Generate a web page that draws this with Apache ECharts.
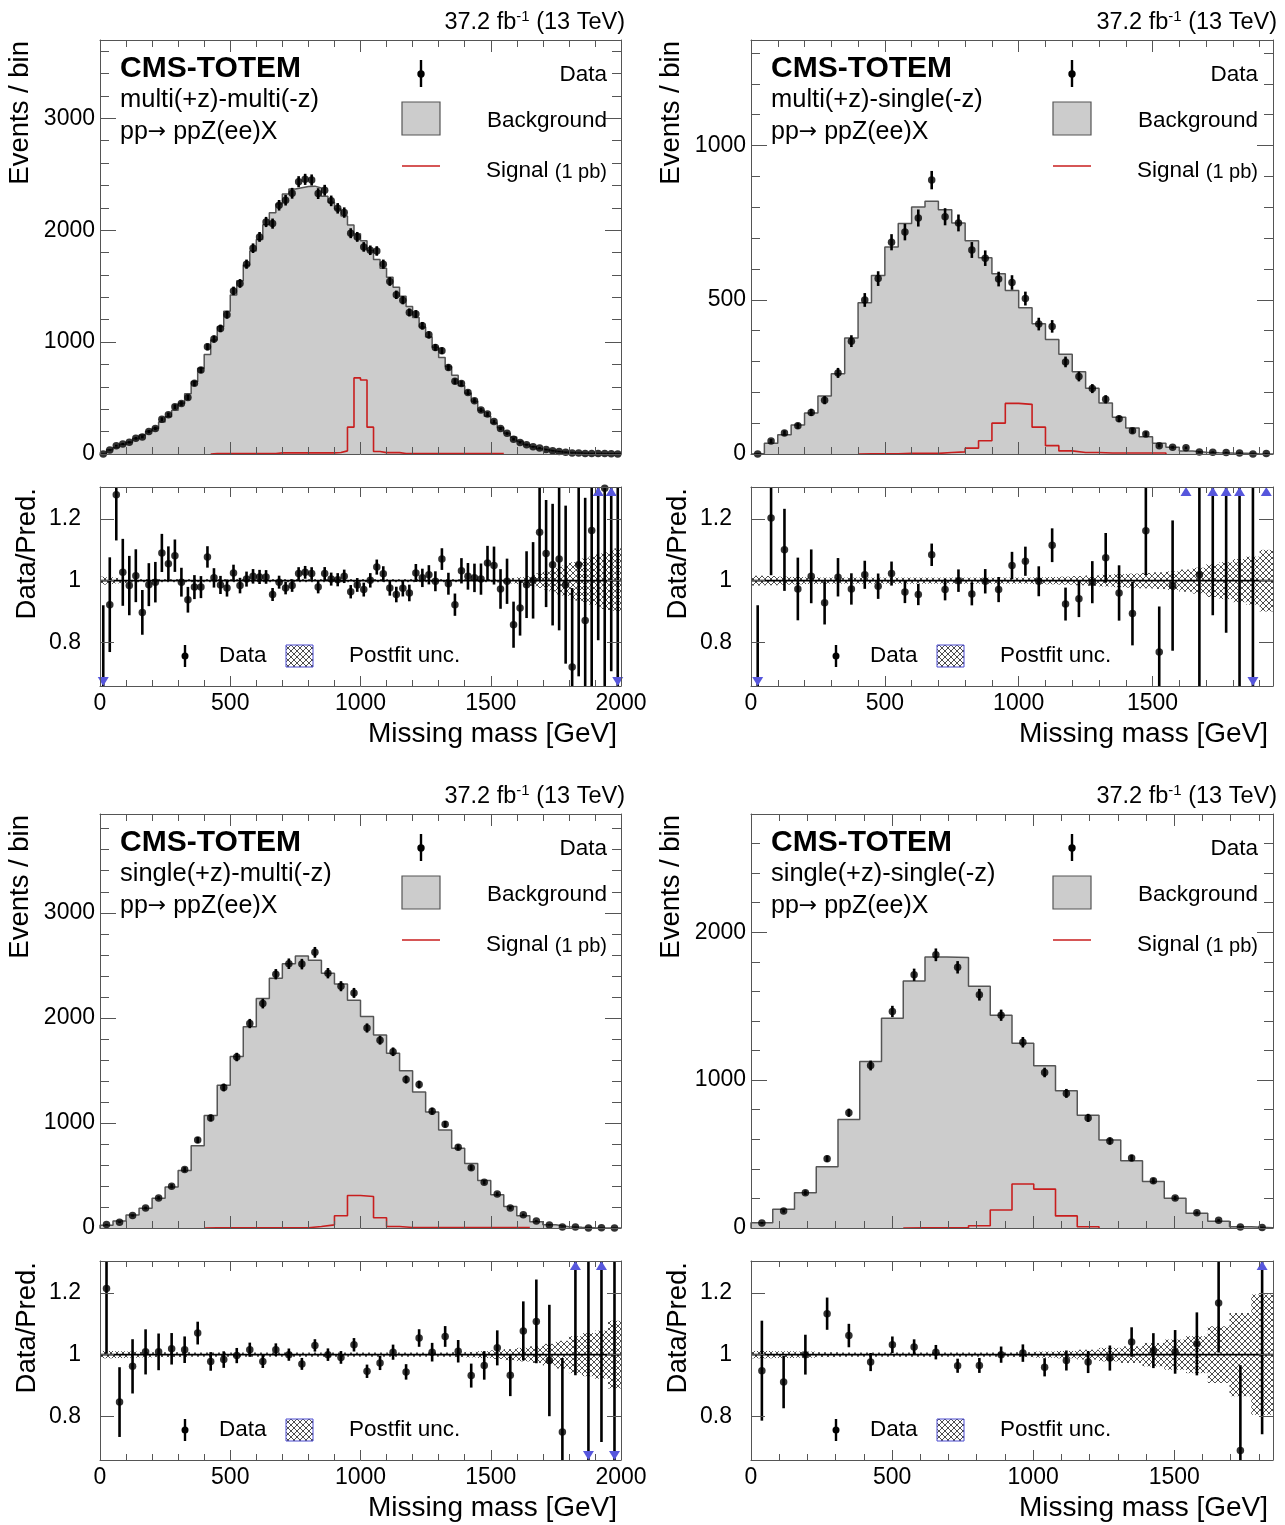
<!DOCTYPE html>
<html>
<head>
<meta charset="utf-8">
<title>CMS-TOTEM missing mass</title>
<script src="https://cdn.jsdelivr.net/npm/echarts@6/dist/echarts.min.js"></script>
<style>
html,body{margin:0;padding:0;background:#fff;}
#chart{width:1285px;height:1525px;}
</style>
</head>
<body>
<div id="chart"></div>
<script>
// ================= DATA =================
// Panel 1: multi(+z)-multi(-z) : 80 bins, 0-2000 GeV
const mmBackground = [
  2, 39, 58, 87, 106, 138, 170, 203, 230, 285,
  333, 391, 454, 539, 645, 766, 889, 1018, 1138, 1275,
  1422, 1549, 1688, 1814, 1917, 2049, 2156, 2234, 2324, 2368,
  2379, 2390, 2394, 2377, 2304, 2251, 2189, 2128, 2047, 1968,
  1906, 1819, 1738, 1660, 1580, 1490, 1410, 1318, 1220, 1136,
  1045, 954, 863, 782, 704, 611, 543, 472, 391, 338,
  276, 235, 185, 153, 114, 84, 65, 47, 36, 27,
  20, 15, 11, 8, 5.5, 4.2, 3.5, 2.8, 2, 1.2];
const mmSignal = [
  0, 0, 0, 0, 0, 0, 0, 0, 0, 0,
  0, 0, 0, 0, 0, 0, 0, 3, 3, 3,
  3, 3, 3, 5, 5, 5, 5, 10, 10, 10,
  10, 10, 10, 10, 10, 10, 14, 28, 240, 680,
  662, 240, 22, 12, 12, 12, 5, 5, 5, 5,
  5, 5, 5, 5, 5, 5, 5, 5, 5, 5,
  5, 5, 0, 0, 0, 0, 0, 0, 0, 0,
  0, 0, 0, 0, 0, 0, 0, 0, 0, 0];
const mmRatio = [
  0, 0.922, 1.279, 1.027, 0.984, 1.016, 0.897, 0.987, 0.995, 1.09,
  1.055, 1.081, 0.995, 0.938, 0.979, 0.979, 1.077, 1.009, 0.986, 0.976,
  1.025, 0.984, 1.005, 1.014, 1.012, 1.012, 0.955, 0.995, 0.976, 0.984,
  1.023, 1.027, 1.023, 0.979, 1.023, 1.005, 1.003, 1.014, 0.964, 0.986,
  0.971, 1.001, 1.044, 1.022, 0.976, 0.955, 0.975, 0.96, 1.025, 1.009,
  1.019, 0.998, 1.07, 0.99, 0.922, 1.032, 1.014, 1.009, 1.005, 1.057,
  1.049, 0.973, 0.998, 0.857, 0.911, 0.987, 1.001, 1.157, 1.088, 1.052,
  1.07, 0.987, 0.72, 1.052, 0.871, 1.163, 1.45, 1.3, 1.6, 0];
const mmPostfitUnc = [
  0.013, 0.011, 0.009, 0.008, 0.006, 0.005, 0.005, 0.005, 0.005, 0.005,
  0.005, 0.005, 0.005, 0.005, 0.005, 0.005, 0.005, 0.005, 0.005, 0.005,
  0.005, 0.005, 0.005, 0.005, 0.005, 0.005, 0.005, 0.005, 0.005, 0.005,
  0.005, 0.005, 0.005, 0.005, 0.005, 0.005, 0.005, 0.005, 0.005, 0.005,
  0.005, 0.005, 0.005, 0.005, 0.005, 0.005, 0.005, 0.005, 0.005, 0.005,
  0.005, 0.005, 0.005, 0.005, 0.005, 0.005, 0.005, 0.005, 0.005, 0.005,
  0.005, 0.006, 0.007, 0.009, 0.011, 0.014, 0.018, 0.024, 0.029, 0.035,
  0.045, 0.05, 0.06, 0.065, 0.072, 0.078, 0.085, 0.092, 0.098, 0.105];

// Panel 2: multi(+z)-single(-z) : 39 bins, 0-1950 GeV
const msBackground = [
  2, 35, 62, 94, 133, 188, 260, 376, 490, 579,
  671, 747, 801, 819, 792, 749, 691, 636, 584, 530,
  474, 422, 371, 323, 267, 213, 165, 119, 84, 56,
  35, 22, 10, 6, 4, 3, 2.5, 1.2, 0.3];
const msSignal = [
  0, 0, 0, 0, 0, 0, 0, 0, 1, 1,
  1, 2, 2, 2, 5, 7, 19, 43, 100, 164,
  161, 87, 27, 10, 5, 5, 3, 3, 3, 3,
  3, 0, 0, 0, 0, 0, 0, 0, 0];
const msRatio = [
  0, 1.203, 1.10, 0.973, 1.014, 0.928, 1.011, 0.973, 1.019, 0.982,
  1.023, 0.963, 0.955, 1.084, 0.971, 1.0, 0.957, 0.998, 0.971, 1.049,
  1.063, 0.998, 1.115, 0.924, 0.941, 0.995, 1.074, 0.96, 0.893, 1.162,
  0.768, 0.984, 2.0, 1.019, 1.5, 1.55, 1.35, 0, 6.7];
const msPostfitUnc = [
  0.016, 0.015, 0.013, 0.012, 0.011, 0.01, 0.01, 0.01, 0.01, 0.01,
  0.01, 0.01, 0.01, 0.01, 0.01, 0.01, 0.01, 0.01, 0.01, 0.01,
  0.01, 0.011, 0.012, 0.013, 0.015, 0.017, 0.019, 0.021, 0.023, 0.025,
  0.027, 0.03, 0.036, 0.042, 0.053, 0.06, 0.07, 0.078, 0.1];

// Panel 3: single(+z)-multi(-z) : 40 bins, 0-2000 GeV
const smBackground = [
  27, 66, 124, 188, 284, 390, 547, 782, 1071, 1359,
  1632, 1915, 2184, 2377, 2515, 2589, 2547, 2425, 2322, 2168,
  2012, 1837, 1664, 1497, 1295, 1103, 932, 759, 615, 451,
  316, 204, 117, 60, 30, 13, 6, 1.3, 1, 0.8];
const smSignal = [
  0, 0, 0, 0, 0, 0, 0, 0, 2, 2,
  2, 2, 2, 3, 3, 3, 15, 30, 117, 310,
  300, 98, 14, 5, 5, 5, 5, 5, 5, 5,
  5, 5, 5, 0, 0, 0, 0, 0, 0, 0];
const smRatio = [
  1.215, 0.846, 0.962, 1.009, 1.009, 1.019, 1.016, 1.07, 0.978, 0.984,
  0.997, 1.016, 0.978, 1.016, 1.0, 0.97, 1.03, 1.0, 0.991, 1.032,
  0.946, 0.973, 1.008, 0.944, 1.054, 1.008, 1.059, 1.011, 0.932, 0.965,
  1.022, 0.933, 1.077, 1.108, 0.981, 0.749, 1.42, 0, 2.2, 0];
const smPostfitUnc = [
  0.012, 0.011, 0.01, 0.009, 0.008, 0.008, 0.008, 0.007, 0.007, 0.007,
  0.007, 0.007, 0.007, 0.007, 0.007, 0.007, 0.007, 0.007, 0.007, 0.007,
  0.007, 0.007, 0.007, 0.007, 0.007, 0.007, 0.007, 0.008, 0.009, 0.011,
  0.014, 0.018, 0.022, 0.027, 0.035, 0.045, 0.06, 0.07, 0.078, 0.11];

// Panel 4: single(+z)-single(-z) : 24 bins, 0-1850 GeV
const ssBackground = [
  36, 126, 239, 414, 734, 1126, 1419, 1671, 1833, 1829,
  1635, 1439, 1250, 1097, 928, 763, 595, 455, 315, 201,
  99, 45, 9, 2];
const ssSignal = [
  0, 0, 0, 0, 0, 0, 0, 1, 1, 1,
  15, 122, 298, 263, 82, 8, 0, 0, 0, 0,
  0, 0, 0, 0];
const ssRatio = [
  0.948, 0.911, 1.0, 1.133, 1.062, 0.976, 1.032, 1.025, 1.008, 0.964,
  0.965, 1.0, 1.005, 0.959, 0.981, 0.976, 0.989, 1.041, 1.013, 1.009,
  1.035, 1.168, 0.689, 1.65];
const ssPostfitUnc = [
  0.012, 0.011, 0.01, 0.008, 0.007, 0.007, 0.007, 0.007, 0.007, 0.007,
  0.007, 0.007, 0.008, 0.01, 0.012, 0.016, 0.022, 0.027, 0.038, 0.049,
  0.06, 0.092, 0.135, 0.195];

// Axis ranges and tick labels
const massMax = [2000, 1950, 2000, 1850];
const eventsMax = [3700, 1342, 3940, 2800];
const eventsMinorStep = [200, 100, 200, 200];
const massTickLabels = [[0, 500, 1000, 1500, 2000], [0, 500, 1000, 1500], [0, 500, 1000, 1500, 2000], [0, 500, 1000, 1500]];
const eventsTickLabels = [[0, 1000, 2000, 3000], [0, 500, 1000], [0, 1000, 2000, 3000], [0, 1000, 2000]];
const ratioTickLabels = [0.8, 1, 1.2];
const ratioMin = 0.658, ratioMax = 1.304;
const categoryNames = ['multi(+z)-multi(-z)', 'multi(+z)-single(-z)', 'single(+z)-multi(-z)', 'single(+z)-single(-z)'];

// ================= BUILD =================
const FONT = '"Liberation Sans", Arial, Helvetica, sans-serif';
const FRAME = '#555555';
const BLUE = '#5656dc';
const panels = [
  {bkg: mmBackground, sig: mmSignal, ratio: mmRatio, unc: mmPostfitUnc},
  {bkg: msBackground, sig: msSignal, ratio: msRatio, unc: msPostfitUnc},
  {bkg: smBackground, sig: smSignal, ratio: smRatio, unc: smPostfitUnc},
  {bkg: ssBackground, sig: ssSignal, ratio: ssRatio, unc: ssPostfitUnc}
];
const layout = [
  {left: 100, top: 40, width: 521},
  {left: 751, top: 40, width: 522},
  {left: 100, top: 814, width: 521},
  {left: 751, top: 814, width: 522}
];

const hatchCanvas = (function () {
  const c = document.createElement('canvas');
  c.width = 6; c.height = 6;
  const g = c.getContext('2d');
  g.strokeStyle = '#444444'; g.lineWidth = 0.95;
  g.beginPath();
  g.moveTo(-1, -1); g.lineTo(7, 7);
  g.moveTo(7, -1); g.lineTo(-1, 7);
  g.stroke();
  return c;
})();
const HATCH = {image: hatchCanvas, repeat: 'repeat'};

const grids = [], xAxes = [], yAxes = [], series = [], graphics = [];

function minorTicks(max, step, majors) {
  const out = [];
  for (let k = 0; k * step <= max + 1e-9; k++) {
    const v = Math.round(k * step * 1000) / 1000;
    if (majors.indexOf(v) < 0) out.push(v);
  }
  return out;
}

function addAxis(kind, grid, position, min, max, ticks, len, labels, labelOpt, line) {
  const ax = {
    type: 'value', gridIndex: grid, position: position, min: min, max: max, z: 10,
    axisLine: {show: !!line, onZero: false, lineStyle: {color: FRAME, width: 1}},
    axisTick: {show: true, inside: true, length: len, customValues: ticks, lineStyle: {color: FRAME, width: 1}},
    axisLabel: labels ? Object.assign({show: true, customValues: labels, fontFamily: FONT, fontSize: 23, color: '#000',
      formatter: function (v) { return String(v); }}, labelOpt || {}) : {show: false},
    splitLine: {show: false}
  };
  const arr = kind === 'x' ? xAxes : yAxes;
  arr.push(ax);
  return arr.length - 1;
}

function stepPts(vals, xMax, trim) {
  const n = vals.length, w = xMax / n;
  let a = 0, b = n - 1;
  if (trim) {
    while (a < n && vals[a] === 0) a++;
    while (b >= 0 && vals[b] === 0) b--;
  }
  const pts = [[a * w, 0]];
  for (let i = a; i <= b; i++) { pts.push([i * w, vals[i]]); pts.push([(i + 1) * w, vals[i]]); }
  pts.push([(b + 1) * w, 0]);
  return pts;
}

function errBarSeries(xi, yi, data) {
  return {
    type: 'custom', xAxisIndex: xi, yAxisIndex: yi, clip: true, silent: true, z: 4,
    data: data,
    renderItem: function (params, api) {
      const p1 = api.coord([api.value(0), api.value(1)]);
      const p2 = api.coord([api.value(0), api.value(2)]);
      return {type: 'line', shape: {x1: p1[0], y1: p1[1], x2: p2[0], y2: p2[1]},
        style: {stroke: '#000', lineWidth: 2.6}};
    }
  };
}

function text(x, y, str, opt, extra) {
  graphics.push(Object.assign({type: 'text', x: x, y: y, z: 20, silent: true,
    style: Object.assign({text: str, fontFamily: FONT, fontSize: 22.5, fill: '#000', align: 'left', verticalAlign: 'middle'}, opt || {})}, extra || {}));
}

panels.forEach(function (p, k) {
  const L = layout[k];
  const xMax = massMax[k], yMax = eventsMax[k];
  const n = p.bkg.length, w = xMax / n;
  const xMaj = massTickLabels[k];
  const xMin = minorTicks(xMax, 100, xMaj);
  const yMaj = eventsTickLabels[k];
  const yMin = minorTicks(yMax, eventsMinorStep[k], yMaj);

  const gm = grids.length; grids.push({left: L.left, top: L.top, width: L.width, height: 414});
  const gr = grids.length; grids.push({left: L.left, top: L.top + 447, width: L.width, height: 199});

  // main axes
  const xm = addAxis('x', gm, 'bottom', 0, xMax, xMaj, 12, null, null, true);
  addAxis('x', gm, 'bottom', 0, xMax, xMin, 7);
  addAxis('x', gm, 'top', 0, xMax, xMaj, 12, null, null, true);
  addAxis('x', gm, 'top', 0, xMax, xMin, 7);
  const ym = addAxis('y', gm, 'left', 0, yMax, yMaj, 16, yMaj, {margin: 5}, true);
  addAxis('y', gm, 'left', 0, yMax, yMin, 9);
  addAxis('y', gm, 'right', 0, yMax, yMaj, 16, null, null, true);
  addAxis('y', gm, 'right', 0, yMax, yMin, 9);
  // ratio axes
  const xr = addAxis('x', gr, 'bottom', 0, xMax, xMaj, 10, xMaj, {margin: 6}, true);
  addAxis('x', gr, 'bottom', 0, xMax, xMin, 6);
  addAxis('x', gr, 'top', 0, xMax, xMaj, 10, null, null, true);
  addAxis('x', gr, 'top', 0, xMax, xMin, 6);
  const yr = addAxis('y', gr, 'left', ratioMin, ratioMax, ratioTickLabels, 14, ratioTickLabels, {margin: 19}, true);
  addAxis('y', gr, 'right', ratioMin, ratioMax, ratioTickLabels, 14, null, null, true);

  // derived quantities
  const dataPts = [], dataErr = [], ratioPts = [], ratioErr = [], arrows = [], band = [];
  for (let i = 0; i < n; i++) {
    const c = (i + 0.5) * w;
    const B = p.bkg[i], r = p.ratio[i], d = r * B;
    dataPts.push([c, d]);
    if (d > 0) {
      const s = Math.sqrt(d);
      dataErr.push([c, d - s, d + s]);
      ratioErr.push([c, r - s / B, r + s / B]);
    } else {
      dataErr.push([c, 0, 1.84]);
      ratioErr.push([c, 0, 1.84 / B]);
    }
    ratioPts.push([c, r]);
    if (r > ratioMax) arrows.push([c, 1]);
    else if (r < ratioMin) arrows.push([c, -1]);
    band.push([i * w, (i + 1) * w, 1 - p.unc[i], 1 + p.unc[i]]);
  }

  // main series
  series.push({type: 'line', xAxisIndex: xm, yAxisIndex: ym, data: stepPts(p.bkg, xMax, false), symbol: 'none',
    lineStyle: {color: '#555', width: 1.5}, areaStyle: {color: '#cccccc', opacity: 1}, silent: true, z: 2, clip: true});
  series.push({type: 'line', xAxisIndex: xm, yAxisIndex: ym, data: stepPts(p.sig, xMax, true), symbol: 'none',
    lineStyle: {color: '#c81e1e', width: 1.6}, silent: true, z: 3, clip: true});
  series.push(errBarSeries(xm, ym, dataErr));
  series.push({type: 'scatter', xAxisIndex: xm, yAxisIndex: ym, data: dataPts, symbol: 'circle', symbolSize: 7.5,
    itemStyle: {color: '#000'}, silent: true, z: 5, clip: true});

  // ratio series
  series.push({type: 'custom', xAxisIndex: xr, yAxisIndex: yr, clip: true, silent: true, z: 2, data: band,
    renderItem: function (params, api) {
      const a = api.coord([api.value(0), api.value(3)]);
      const b = api.coord([api.value(1), api.value(2)]);
      return {type: 'rect', shape: {x: a[0], y: a[1], width: b[0] - a[0], height: b[1] - a[1]}, style: {fill: HATCH}};
    }});
  series.push({type: 'line', xAxisIndex: xr, yAxisIndex: yr, data: [[0, 1], [xMax, 1]], symbol: 'none',
    lineStyle: {color: '#000', width: 1.6}, silent: true, z: 3});
  series.push(errBarSeries(xr, yr, ratioErr));
  series.push({type: 'scatter', xAxisIndex: xr, yAxisIndex: yr, data: ratioPts, symbol: 'circle', symbolSize: 7.5,
    itemStyle: {color: '#000'}, silent: true, z: 5, clip: true});
  series.push({type: 'custom', xAxisIndex: xr, yAxisIndex: yr, clip: false, silent: true, z: 6, data: arrows,
    renderItem: function (params, api) {
      const up = api.value(1) > 0;
      const q = api.coord([api.value(0), up ? ratioMax : ratioMin]);
      const h = 9, hw = 5.5;
      const pts = up ? [[q[0], q[1]], [q[0] - hw, q[1] + h], [q[0] + hw, q[1] + h]]
                     : [[q[0], q[1]], [q[0] - hw, q[1] - h], [q[0] + hw, q[1] - h]];
      return {type: 'polygon', shape: {points: pts}, style: {fill: BLUE}};
    }});

  // texts and legends
  const dx = L.left - 100, dy = L.top - 40;
  text(L.left + L.width + 4, 22 + dy, '{a|37.2 fb}{s|-1}{a| (13 TeV)}', {align: 'right',
    rich: {a: {fontFamily: FONT, fontSize: 23.5, lineHeight: 26, verticalAlign: 'bottom'},
           s: {fontFamily: FONT, fontSize: 15, lineHeight: 15, verticalAlign: 'top'}}});
  text(120 + dx, 69 + dy, 'CMS-TOTEM', {fontSize: 30, fontWeight: 'bold'});
  text(120 + dx, 100 + dy, categoryNames[k], {fontSize: 25.5});
  text(120 + dx, 132 + dy, '{a|pp}{r|\u2192}{a| ppZ(ee)X}', {
    rich: {a: {fontFamily: FONT, fontSize: 25}, r: {fontFamily: '"DejaVu Sans", sans-serif', fontSize: 22}}});

  graphics.push({type: 'line', z: 20, silent: true, shape: {x1: 421 + dx, y1: 60 + dy, x2: 421 + dx, y2: 87 + dy}, style: {stroke: '#000', lineWidth: 2.4}});
  graphics.push({type: 'circle', z: 20, silent: true, shape: {cx: 421 + dx, cy: 74 + dy, r: 3.7}, style: {fill: '#000'}});
  text(607 + dx, 75 + dy, 'Data', {align: 'right'});
  graphics.push({type: 'rect', z: 20, silent: true, shape: {x: 402 + dx, y: 102 + dy, width: 38, height: 33}, style: {fill: '#cccccc', stroke: '#555', lineWidth: 1.2}});
  text(607 + dx, 121 + dy, 'Background', {align: 'right'});
  graphics.push({type: 'line', z: 20, silent: true, shape: {x1: 402 + dx, y1: 166 + dy, x2: 440 + dx, y2: 166 + dy}, style: {stroke: '#c81e1e', lineWidth: 1.6}});
  text(607 + dx, 169 + dy, '{a|Signal }{b|(1 pb)}', {align: 'right',
    rich: {a: {fontFamily: FONT, fontSize: 22.5, lineHeight: 26, verticalAlign: 'bottom'},
           b: {fontFamily: FONT, fontSize: 20, lineHeight: 24, verticalAlign: 'bottom'}}});

  graphics.push({type: 'line', z: 20, silent: true, shape: {x1: 185 + dx, y1: 645 + dy, x2: 185 + dx, y2: 667 + dy}, style: {stroke: '#000', lineWidth: 2.4}});
  graphics.push({type: 'circle', z: 20, silent: true, shape: {cx: 185 + dx, cy: 656 + dy, r: 3.5}, style: {fill: '#000'}});
  text(219 + dx, 656 + dy, 'Data');
  graphics.push({type: 'rect', z: 20, silent: true, shape: {x: 286 + dx, y: 645 + dy, width: 27, height: 22}, style: {fill: HATCH, stroke: '#4a4ad0', lineWidth: 1}});
  text(349 + dx, 656 + dy, 'Postfit unc.');

  text(20 + dx, 41 + dy, 'Events / bin', {fontSize: 27.5, align: 'right'}, {rotation: Math.PI / 2});
  text(27 + dx, 488 + dy, 'Data/Pred.', {fontSize: 27.5, align: 'right'}, {rotation: Math.PI / 2});
  text(617 + dx, 734 + dy, 'Missing mass [GeV]', {fontSize: 28, align: 'right'});
});

const chart = echarts.init(document.getElementById('chart'), null, {renderer: 'canvas'});
chart.setOption({
  animation: false,
  backgroundColor: '#ffffff',
  textStyle: {fontFamily: FONT},
  grid: grids,
  xAxis: xAxes,
  yAxis: yAxes,
  series: series,
  graphic: {elements: graphics}
});
</script>
</body>
</html>
